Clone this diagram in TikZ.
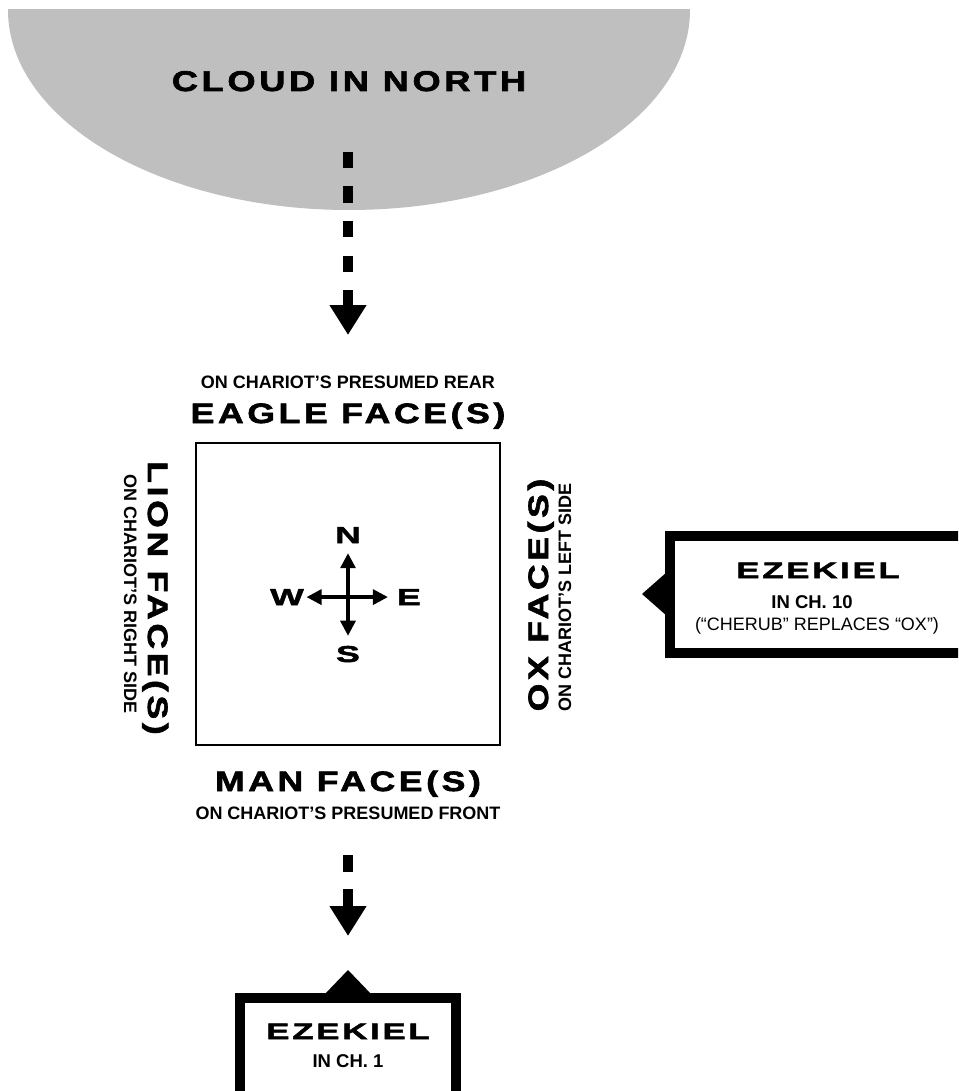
\documentclass[tikz,border=0pt]{standalone}
\usepackage{fontspec}
\setmainfont{Liberation Sans}
\newfontfamily\widefont[FakeStretch=1.27,LetterSpace=13,FakeBold=2.2]{Liberation Sans}
\newfontfamily\ezfont[FakeStretch=1.55,LetterSpace=12,FakeBold=2.2]{Liberation Sans}
\usetikzlibrary{arrows.meta,shapes.geometric}
\definecolor{cloudgray}{HTML}{BFBFBF}
\begin{document}
\begin{tikzpicture}[x=1pt,y=-1pt,
  bigtxt/.style={font=\widefont\bfseries\fontsize{28}{30}\selectfont, inner sep=0pt, anchor=base},
  smalltxt/.style={font=\bfseries\fontsize{18}{20}\selectfont, inner sep=0pt, anchor=base},
  eztxt/.style={font=\ezfont\bfseries\fontsize{22.5}{24}\selectfont, inner sep=0pt, anchor=base},
  chtxt/.style={font=\bfseries\fontsize{18.5}{20}\selectfont, inner sep=0pt, anchor=base},
  notetxt/.style={font=\fontsize{18}{20}\selectfont, inner sep=0pt, anchor=base},
  cmptxt/.style={font=\ezfont\bfseries\fontsize{23}{25}\selectfont, inner sep=0pt, anchor=base},
  dasharrow/.style={line width=10pt, dash pattern=on 16.5pt off 18pt, -{Triangle[length=30pt,width=35pt]}},
  cmparrow/.style={line width=3.2pt, {Triangle[length=15pt,width=15pt]}-{Triangle[length=15pt,width=15pt]}},
  ezbox/.style={draw, line width=10pt, fill=white, inner sep=0pt}
]
\clip (0,0) rectangle (958,1091);
\fill[white] (0,0) rectangle (958,1091);
% cloud
\begin{scope}
  \clip (0,10) rectangle (958,400);
  \node[ellipse, fill=cloudgray, minimum width=682pt, minimum height=400pt, inner sep=0pt] (cloud) at (349,10) {};
\end{scope}
\node[bigtxt, font=\widefont\bfseries\fontsize{28.5}{30}\selectfont] (cloudlbl) at (349,91) {CLOUD IN NORTH};
% arrow from cloud
\coordinate (a1s) at (348,152);
\coordinate (a1e) at (348,335);
\draw[dasharrow] (a1s) -- (a1e);
% eagle
\node[smalltxt] (rear) at (348,388) {ON CHARIOT’S PRESUMED REAR};
\node[bigtxt] (eagle) at (348,423) {EAGLE FACE(S)};
% square
\node[draw, line width=2pt, minimum width=304pt, minimum height=302pt, inner sep=0pt] (sq) at (348,594) {};
% lion
\node[bigtxt, rotate=-90] (lion) at (148,598) {LION FACE(S)};
\node[smalltxt, rotate=-90] (right) at (124,594) {ON CHARIOT’S RIGHT SIDE};
% ox
\node[bigtxt, rotate=90] (ox) at (548,595) {OX FACE(S)};
\node[smalltxt, rotate=90] (left) at (571,597) {ON CHARIOT’S LEFT SIDE};
% man
\node[bigtxt] (man) at (348,791) {MAN FACE(S)};
\node[smalltxt] (front) at (348,819) {ON CHARIOT’S PRESUMED FRONT};
% compass
\node[cmptxt] (N) at (348,543) {N};
\node[cmptxt] (S) at (348,662) {S};
\node[cmptxt] (W) at (287,605) {W};
\node[cmptxt] (E) at (409,605) {E};
\draw[cmparrow, shorten <=10pt, shorten >=10pt] (N.south) -- (S.north);
\draw[cmparrow, shorten <=2.5pt, shorten >=9pt] (W.east) -- (E.west);
% arrow to bottom box
\coordinate (a2s) at (348,855);
\coordinate (a2e) at (348,936);
\draw[dasharrow, dash pattern=on 17pt off 17pt] (a2s) -- (a2e);
% right Ezekiel box
\node[ezbox, minimum width=294pt, minimum height=117pt] (ez10) at (817,594.5) {};
\fill (642,594) -- (667,572) -- (667,616) -- cycle;
\node[eztxt] (ez10a) at (818,578) {EZEKIEL};
\node[chtxt] (ez10b) at (812,608) {IN CH. 10};
\node[notetxt] (ez10c) at (817,630) {(“CHERUB” REPLACES “OX”)};
% bottom Ezekiel box
\node[ezbox, minimum width=216pt, minimum height=120pt] (ez1) at (348,1058) {};
\fill (348,970) -- (324,995) -- (372,995) -- cycle;
\node[eztxt] (ez1a) at (348,1039) {EZEKIEL};
\node[chtxt] (ez1b) at (348,1067) {IN CH. 1};
\end{tikzpicture}
\end{document}
